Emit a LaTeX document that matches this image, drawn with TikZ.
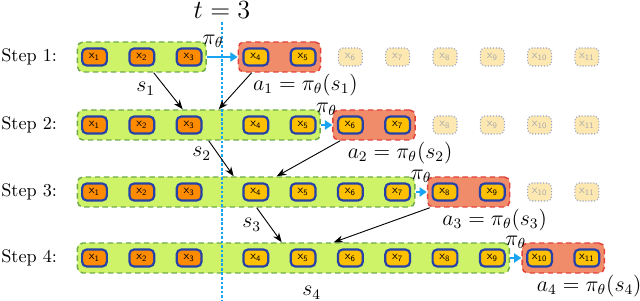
\documentclass[tikz,border=0pt]{standalone}
\usetikzlibrary{arrows.meta, positioning, calc, fit, backgrounds}
\begin{document}
\begin{tikzpicture}[
    x=0.55pt, y=-0.55pt,
    >=Stealth,
]
% Colors
\definecolor{promptfill}{RGB}{255,140,0}
\definecolor{genfill}{RGB}{255,192,0}
\definecolor{tokenedge}{RGB}{38,66,168}
\definecolor{statefill}{RGB}{206,242,104}
\definecolor{stateedge}{RGB}{110,170,72}
\definecolor{actfill}{RGB}{240,140,106}
\definecolor{actedge}{RGB}{226,66,60}
\definecolor{ghostfill}{RGB}{252,232,176}
\definecolor{ghostedge}{RGB}{150,162,204}
\definecolor{ghosttext}{RGB}{172,172,172}
\definecolor{policyblue}{RGB}{24,164,240}
% ============================================================
% Styles
% ============================================================
\tikzset{
    token/.style={
        draw=tokenedge,
        line width=1.2pt,
        rounded corners=2.5pt,
        minimum width=13.6pt,
        minimum height=9.3pt,
        inner sep=0pt,
        font=\sffamily\fontsize{6.5}{7}\selectfont,
    },
    prompt/.style={token, fill=promptfill},
    gen/.style={token, fill=genfill},
    ghost/.style={
        draw=ghostedge, densely dotted,
        line width=0.6pt,
        fill=ghostfill, text=ghosttext,
        rounded corners=2.5pt,
        minimum width=13.2pt,
        minimum height=9.9pt,
        inner sep=0pt,
        font=\sffamily\fontsize{6.5}{7}\selectfont,
    },
    statebox/.style={draw=stateedge, fill=statefill, densely dashed, line width=0.8pt,
        rounded corners=3pt, inner xsep=2pt, inner ysep=3pt},
    actbox/.style={draw=actedge, fill=actfill, densely dashed, line width=0.8pt,
        rounded corners=3pt, inner xsep=2.2pt, inner ysep=3pt},
    policy/.style={-{Triangle[length=4pt, width=5pt]}, policyblue, line width=1.5pt},
    link/.style={->, line width=0.5pt},
    mathlabel/.style={font=\large, inner sep=0pt},
    steplabel/.style={anchor=west, inner sep=0pt},
    timeline/.style={policyblue, line width=0.8pt, dash pattern=on 1.5pt off 1pt},
}
\useasboundingbox (0,0) rectangle (640,301);

% ============================================================
% Token rows: prompt x1-x3, generated tokens, greyed future tokens
% ============================================================
\foreach \k/\y in {1/57, 2/125, 3/192, 4/258} {
    \node[steplabel] (step\k) at (1,\y) {Step \k:};
    \pgfmathtruncatemacro{\ns}{2*\k+1}
    \foreach \i in {1,...,11} {
        \pgfmathsetmacro{\x}{\i<4 ? 94.5+47.3*(\i-1) : 255.8+47.3*(\i-4)}
        \ifnum\i<4 \def\sty{prompt}\else\ifnum\i>\numexpr\ns+2\relax \def\sty{ghost}\else\def\sty{gen}\fi\fi
        \node[\sty] (t\k-\i) at (\x,\y) {x\textsubscript{\i}};
    }
}

% --- State and action boxes behind the tokens ---
\begin{scope}[on background layer]
\foreach \k in {1,...,4} {
    \pgfmathtruncatemacro{\ns}{2*\k+1}
    \pgfmathtruncatemacro{\na}{2*\k+2}
    \pgfmathtruncatemacro{\nb}{2*\k+3}
    \node[statebox, fit=(t\k-1)(t\k-\ns)] (state\k) {};
    \node[actbox, fit=(t\k-\na)(t\k-\nb)] (act\k) {};
}
\end{scope}

% --- Time marker ---
\node[mathlabel, font=\Large] (tmark) at (222,10) {$t = 3$};
\coordinate (tbottom) at (222,301);
\draw[timeline] ([yshift=-2pt]tmark.south) -- (tbottom);

% ============================================================
% Policy arrows: state -> action
% ============================================================
\foreach \k/\p in {1/0.2, 2/0.5, 3/0.5, 4/0.5} {
    \draw[policy] (state\k.east) -- (act\k.west)
        node[mathlabel, pos=\p, above=4.5pt, text=black] (pi\k) {$\pi_\theta$};
}

% --- Labels s_k and a_k ---
\foreach \k/\sx/\sy in {1/69/16, 2/125/13, 3/175/17, 4/235/19} {
    \node[mathlabel] (s\k) at ($(state\k.south west)+(\sx,\sy)$) {$s_\k$};
    \node[mathlabel, anchor=north] (a\k) at ($(act\k.south)+(26,1)$) {$a_\k = \pi_\theta(s_\k)$};
}

% ============================================================
% Arrows to the next step: state and action form the new state
% ============================================================
\foreach \k/\n/\sa/\sb/\aa/\ab in {1/2/77/106/14/142, 2/3/132/157/8/200, 3/4/180/205/3/257} {
    \draw[link] ($(state\k.south west)+(\sa,0)$) -- ($(state\n.north west)+(\sb,0)$);
    \draw[link] ($(act\k.south west)+(\aa,0)$) -- ($(state\n.north west)+(\ab,0)$);
}
\end{tikzpicture}
\end{document}
